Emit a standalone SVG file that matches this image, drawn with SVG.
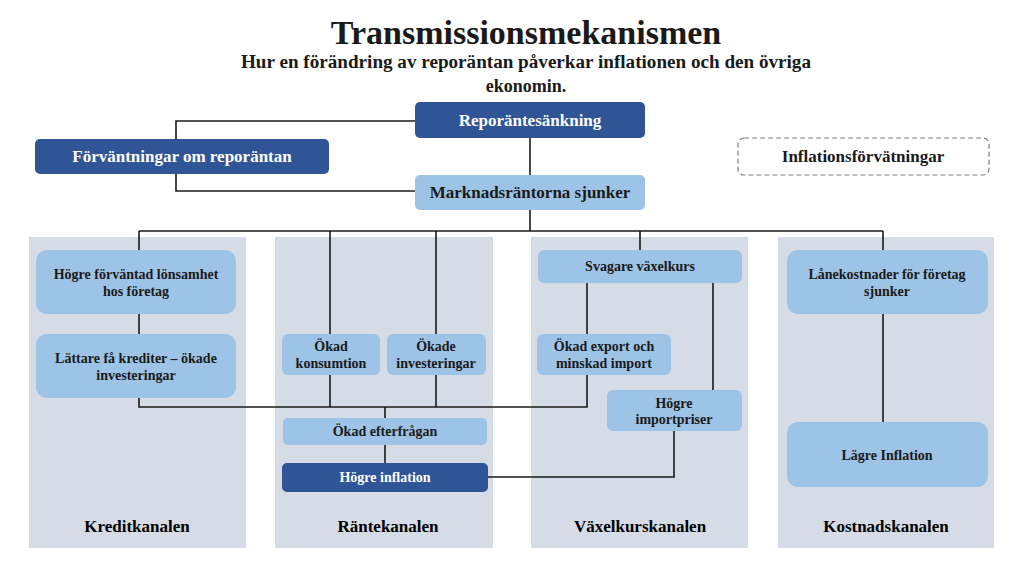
<svg xmlns="http://www.w3.org/2000/svg" width="1024" height="576" viewBox="0 0 1024 576">
<style>
text{font-family:"Liberation Serif","Times New Roman",serif;font-weight:bold;text-anchor:middle;fill:#1a1a1a}
.panel{fill:#d6dce5}
.dark{fill:#2f5597}
.light{fill:#9dc3e6}
.wt{fill:#ffffff}
.top{font-size:17px}
.nd{font-size:14px}
.ch{font-size:17px;fill:#000}
.conn{stroke:#1a1a1a;stroke-width:1.6;fill:none}
</style>
<rect width="1024" height="576" fill="#ffffff"/>
<text x="526" y="44" font-size="34" fill="#000">Transmissionsmekanismen</text>
<text x="526" y="68" font-size="18" textLength="570" lengthAdjust="spacingAndGlyphs">Hur en förändring av reporäntan påverkar inflationen och den övriga</text>
<text x="526" y="92" font-size="18">ekonomin.</text>

<g id="panels">
<rect class="panel" x="29" y="237" width="217" height="311"/>
<rect class="panel" x="275" y="237" width="218" height="311"/>
<rect class="panel" x="531" y="237" width="217" height="311"/>
<rect class="panel" x="778" y="237" width="216" height="311"/>
</g>

<g id="connectors" class="conn">
<polyline points="415,121 176,121 176,139"/>
<polyline points="176,174 176,191 415,191"/>
<line x1="530" y1="138" x2="530" y2="175"/>
<line x1="530" y1="210" x2="530" y2="231"/>
<line x1="139" y1="231" x2="883" y2="231"/>
<line x1="139" y1="231" x2="139" y2="250"/>
<line x1="330" y1="231" x2="330" y2="334"/>
<line x1="436" y1="231" x2="436" y2="334"/>
<line x1="640" y1="231" x2="640" y2="250"/>
<line x1="883" y1="231" x2="883" y2="250"/>
<line x1="139" y1="314" x2="139" y2="334"/>
<polyline points="139,398 139,407 587,407 587,375"/>
<line x1="330" y1="375" x2="330" y2="407"/>
<line x1="436" y1="375" x2="436" y2="407"/>
<line x1="385" y1="407" x2="385" y2="418"/>
<line x1="385" y1="445" x2="385" y2="463"/>
<polyline points="488,477 674,477 674,431"/>
<line x1="587" y1="283" x2="587" y2="334"/>
<line x1="713" y1="283" x2="713" y2="390"/>
<line x1="883" y1="314" x2="883" y2="422"/>
</g>

<g id="n-repo"><rect class="dark" x="415" y="102" width="230" height="36" rx="5"/><text class="top wt" x="530" y="126">Reporäntesänkning</text></g>
<g id="n-forv"><rect class="dark" x="35" y="139" width="294" height="35" rx="5"/><text class="top wt" x="182" y="162">Förväntningar om reporäntan</text></g>
<g id="n-mark"><rect class="light" x="415" y="175" width="230" height="35" rx="5"/><text class="top" x="530" y="198">Marknadsräntorna sjunker</text></g>
<g id="n-infl"><rect x="738" y="138" width="251" height="37" rx="6" fill="#ffffff" stroke="#7f7f7f" stroke-width="1.2" stroke-dasharray="5,3"/><text class="top" x="863" y="162">Inflationsförvätningar</text></g>

<g id="n-hogre-forv"><rect class="light" x="36" y="250" width="200" height="64" rx="11"/><text class="nd" x="136" y="279">Högre förväntad lönsamhet</text><text class="nd" x="136" y="296">hos företag</text></g>
<g id="n-lattare"><rect class="light" x="36" y="334" width="200" height="64" rx="11"/><text class="nd" x="136" y="363">Lättare få krediter – ökade</text><text class="nd" x="136" y="380">investeringar</text></g>

<g id="n-konsum"><rect class="light" x="282" y="334" width="98" height="41" rx="6"/><text class="nd" x="331" y="351">Ökad</text><text class="nd" x="331" y="368">konsumtion</text></g>
<g id="n-invest"><rect class="light" x="387" y="334" width="99" height="41" rx="6"/><text class="nd" x="436" y="351">Ökade</text><text class="nd" x="436" y="368">investeringar</text></g>
<g id="n-efterfr"><rect class="light" x="283" y="418" width="204" height="27" rx="5"/><text class="nd" x="385" y="436">Ökad efterfrågan</text></g>
<g id="n-hogre-infl"><rect class="dark" x="282" y="463" width="206" height="29" rx="5"/><text class="nd wt" x="385" y="482">Högre inflation</text></g>

<g id="n-svagare"><rect class="light" x="538" y="250" width="204" height="33" rx="6"/><text class="nd" x="640" y="271">Svagare växelkurs</text></g>
<g id="n-export"><rect class="light" x="537" y="334" width="134" height="41" rx="6"/><text class="nd" x="604" y="351">Ökad export och</text><text class="nd" x="604" y="368">minskad import</text></g>
<g id="n-import"><rect class="light" x="607" y="390" width="135" height="41" rx="6"/><text class="nd" x="674" y="408">Högre</text><text class="nd" x="674" y="424">importpriser</text></g>

<g id="n-lane"><rect class="light" x="787" y="250" width="201" height="64" rx="11"/><text class="nd" x="887" y="279">Lånekostnader för företag</text><text class="nd" x="887" y="296">sjunker</text></g>
<g id="n-lagre"><rect class="light" x="787" y="422" width="201" height="65" rx="11"/><text class="nd" x="887" y="460">Lägre Inflation</text></g>

<g id="labels">
<text class="ch" x="137" y="532">Kreditkanalen</text>
<text class="ch" x="388" y="532">Räntekanalen</text>
<text class="ch" x="640" y="532">Växelkurskanalen</text>
<text class="ch" x="886" y="532">Kostnadskanalen</text>
</g>
</svg>
